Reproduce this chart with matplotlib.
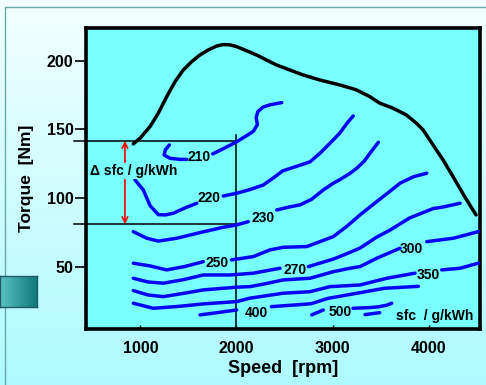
import matplotlib
matplotlib.use("Agg")
import matplotlib.pyplot as plt
import numpy as np

plt.rcParams["font.family"] = ["Liberation Sans", "DejaVu Sans"]
plt.rcParams["font.weight"] = "bold"

# full load torque curve
full_load_rpm = [927, 997, 1101, 1187, 1275, 1361, 1447, 1535, 1621, 1707, 1795, 1863, 1933,
                 2003, 2068, 2207, 2311, 2415, 2554, 2692, 2866, 3074, 3247, 3386, 3490,
                 3629, 3767, 3871, 3941, 4045, 4149, 4253, 4374, 4492]
full_load_nm = [139.5, 143.6, 152.1, 161.9, 174.0, 184.9, 193.4, 199.5, 204.4, 208.0, 210.9,
                211.9, 211.7, 210.4, 208.5, 204.4, 200.7, 197.1, 193.4, 189.8, 186.1, 182.5,
                178.9, 174.0, 169.2, 165.5, 160.6, 154.6, 149.7, 138.7, 127.8, 115.6, 101.0, 87.7]

# sfc iso-lines (rpm, Nm), split where the label sits
iso_210_a = [(1302, 138.7), (1260, 135.1), (1247, 131.4), (1309, 129.0), (1413, 128.2), (1483, 128.2)]
iso_210_b = [(1753, 132.2), (1881, 136.6), (2003, 141.1), (2110, 145.7), (2175, 148.6), (2218, 153.5),
             (2205, 158.6), (2222, 163.0), (2276, 166.3), (2349, 168.0), (2471, 169.6)]
iso_220_a = [(945, 113.2), (1031, 105.9), (1101, 94.5), (1187, 87.9), (1260, 87.7), (1343, 88.9),
             (1465, 92.8), (1587, 96.2)]
iso_220_b = [(1863, 101.5), (2003, 103.5), (2141, 106.2), (2279, 109.5), (2400, 115.5), (2480, 119.8),
             (2620, 123.0), (2765, 126.4), (2869, 132.7), (2973, 140.0), (3074, 147.3), (3160, 155.5),
             (3215, 159.9)]
iso_230_a = [(927, 75.5), (1067, 70.7), (1187, 68.6), (1379, 70.7), (1621, 74.8), (1850, 78.5),
             (2003, 80.4), (2123, 82.8)]
iso_230_b = [(2419, 91.3), (2550, 93.5), (2661, 95.0), (2780, 99.0), (2903, 105.9), (3000, 110.5),
             (3077, 113.5), (3170, 117.5), (3251, 121.7), (3330, 127.0), (3389, 132.7), (3476, 140.7)]
iso_250_a = [(927, 52.5), (1101, 50.5), (1275, 47.6), (1465, 50.1), (1655, 53.6)]
iso_250_b = [(1950, 54.9), (2175, 57.3), (2349, 62.2), (2487, 64.1), (2731, 64.6), (3008, 71.9),
             (3150, 79.5), (3285, 87.7), (3459, 97.4), (3580, 104.0), (3701, 110.8), (3840, 115.5),
             (3979, 118.1)]
iso_270_a = [(927, 41.5), (1080, 38.8), (1239, 37.9), (1450, 40.5), (1655, 43.9), (1933, 43.9),
             (2175, 45.2), (2453, 48.8)]
iso_270_b = [(2748, 50.0), (3008, 55.5), (3150, 59.5), (3285, 63.5), (3459, 71.5), (3594, 76.5),
             (3802, 85.5), (4045, 92.3), (4152, 93.5), (4326, 96.2)]
iso_300_a = [(927, 32.5), (1080, 29.3), (1239, 28.1), (1450, 30.5), (1655, 33.0), (2003, 35.0),
             (2141, 35.4), (2300, 37.5), (2487, 40.3), (2765, 41.5), (3008, 46.3), (3181, 48.8),
             (3285, 50.0), (3459, 56.1), (3701, 63.4)]
iso_300_b = [(3979, 68.2), (4256, 70.7), (4516, 75.5)]
iso_350_a = [(927, 23.3), (1135, 19.6), (1400, 21.0), (1655, 22.8), (2003, 24.5), (2141, 27.0),
             (2487, 30.6), (2765, 31.7), (2973, 35.4), (3285, 36.6), (3563, 41.5), (3857, 45.2)]
iso_350_b = [(4135, 47.6), (4326, 48.8), (4516, 52.5)]
iso_400_a = [(1621, 14.8), (1777, 16.2), (2003, 18.4)]
iso_400_b = [(2363, 20.8), (2700, 22.5), (2780, 23.0), (2950, 26.8), (3285, 31.0), (3540, 34.2),
             (3892, 35.6)]
iso_500_a = [(2783, 14.8), (2904, 18.4)]
iso_500_b = [(3212, 19.6), (3380, 20.1), (3470, 20.6), (3560, 21.8), (3615, 23.3)]
iso_500_c = [(3337, 15.0), (3490, 16.4)]

sfc_levels = [210, 220, 230, 250, 270, 300, 350, 400, 500]
label_rpm = [1614, 1718, 2273, 1801, 2609, 3823, 3996, 2209, 3077]
label_nm = [129.8, 100.2, 85.7, 52.5, 47.6, 62.9, 43.9, 16.4, 17.2]

segments = [iso_210_a, iso_210_b, iso_220_a, iso_220_b, iso_230_a, iso_230_b, iso_250_a, iso_250_b,
            iso_270_a, iso_270_b, iso_300_a, iso_300_b, iso_350_a, iso_350_b, iso_400_a, iso_400_b,
            iso_500_a, iso_500_b, iso_500_c]

# delta sfc window
window_lo, window_hi = 80.9, 141.7
window_rpm = 2000
arrow_rpm = 840

W, H = 486, 385
fig = plt.figure(figsize=(W / 100, H / 100), dpi=100)

# slide background
bg = fig.add_axes([0, 0, 1, 1], zorder=-10)
grad = np.linspace(0, 1, 256)[:, None]
c_top = np.array([0.95, 1.0, 1.0])
c_bot = np.array([0.68, 0.98, 1.0])
img = c_top[None, None, :] * (1 - grad[:, :, None]) + c_bot[None, None, :] * grad[:, :, None]
bg.imshow(img, aspect="auto", extent=[0, 1, 0, 1], origin="upper")
bg.plot([5 / W, 5 / W, 1], [0, 1 - 7 / H, 1 - 7 / H], color="#6aa8aa", lw=1.0)
bg.set_xlim(0, 1)
bg.set_ylim(0, 1)
bg.axis("off")

# teal block at the left edge
blk = fig.add_axes([0, 1 - 307 / H, 37 / W, 31 / H], zorder=-5)
hg = np.linspace(0, 1, 128)[None, :, None]
c_l = np.array([0.36, 0.76, 0.76])
c_r = np.array([0.05, 0.47, 0.47])
blk.imshow(c_l * (1 - hg) + c_r * hg, aspect="auto", extent=[0, 1, 0, 1])
blk.set_xticks([])
blk.set_yticks([])
for s in blk.spines.values():
    s.set_color("#1d5a6a")
    s.set_linewidth(1.0)

ax = fig.add_axes([86 / W, 1 - 329 / H, (479.7 - 86) / W, (329 - 28) / H])
ax.set_facecolor("#78ffff")
ax.set_xlim(435, 4530)
ax.set_ylim(4.5, 224)

ax.plot(full_load_rpm, full_load_nm, color="black", lw=2.5, solid_capstyle="round",
        solid_joinstyle="round", zorder=4)

for seg in segments:
    r, t = zip(*seg)
    ax.plot(r, t, color="#0606f2", lw=2.5, solid_capstyle="round", solid_joinstyle="round",
            zorder=3)

for lev, r, t in zip(sfc_levels, label_rpm, label_nm):
    ax.text(r, t, str(lev), ha="center", va="center", fontsize=10, fontweight="bold", zorder=5)

# window lines
for lev in (window_lo, window_hi):
    ax.plot([310, window_rpm], [lev, lev], color="black", lw=1.1, clip_on=False, zorder=2)
ax.plot([window_rpm, window_rpm], [146, 4.5], color="black", lw=1.1, zorder=2)
ax.annotate("", xy=(arrow_rpm, window_lo), xytext=(arrow_rpm, window_hi),
            arrowprops=dict(arrowstyle="<->", color="red", lw=1.2, shrinkA=0, shrinkB=0,
                            mutation_scale=10), zorder=6)
ax.text(930, 119.8, "\u0394 sfc / g/kWh", ha="center", va="center", fontsize=10,
        fontweight="bold", zorder=6,
        bbox=dict(boxstyle="square,pad=0.05", fc="#78ffff", ec="none"))
ax.text(4065, 14.0, "sfc  / g/kWh", ha="center", va="center", fontsize=10, fontweight="bold")

ax.set_xticks([1000, 2000, 3000, 4000])
ax.set_yticks([50, 100, 150, 200])
ax.tick_params(axis="x", direction="in", length=3, width=1, pad=8.5, labelsize=11.5)
ax.tick_params(axis="y", direction="out", length=8, width=1.2, pad=1, labelsize=11.5)
for lab in ax.get_xticklabels() + ax.get_yticklabels():
    lab.set_fontweight("bold")
for s in ax.spines.values():
    s.set_linewidth(2.6)

ax.set_xlabel("Speed  [rpm]", fontsize=13, fontweight="bold", labelpad=3)
ax.set_ylabel("Torque  [Nm]", fontsize=12.5, fontweight="bold", labelpad=9)

fig.savefig("out.png", dpi=100)
